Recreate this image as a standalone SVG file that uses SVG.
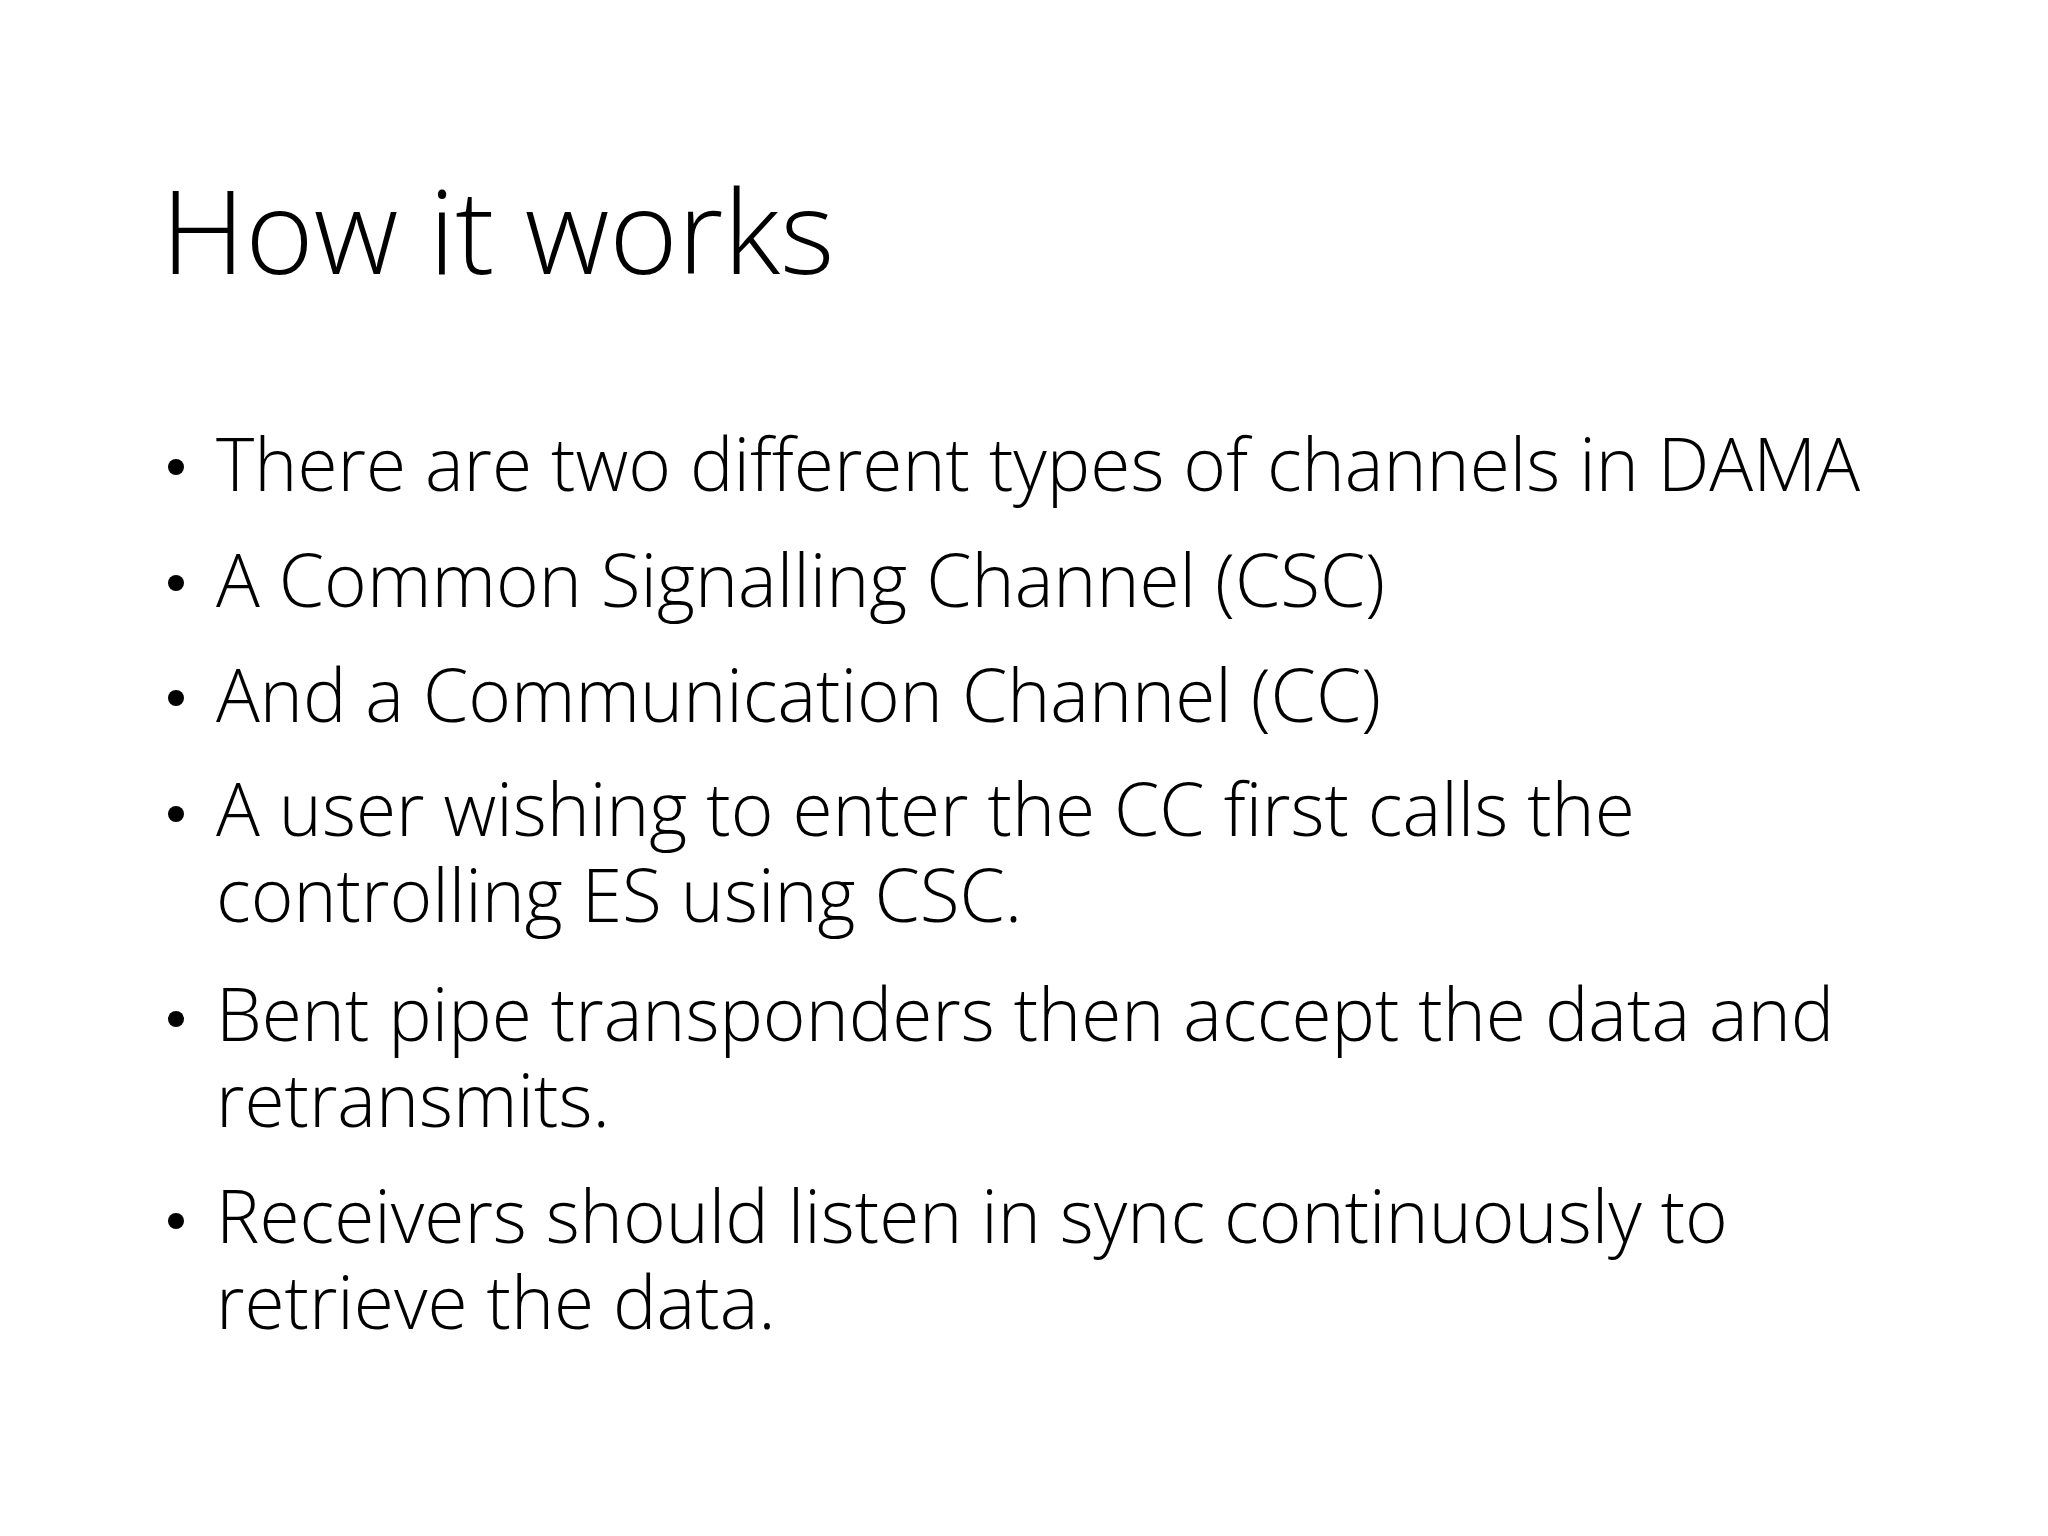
<svg xmlns="http://www.w3.org/2000/svg" width="2048" height="1536" viewBox="0 0 2048 1536">
<style>
text{font-family:"Open Sans","Noto Sans",sans-serif;font-weight:300;fill:#000}
.t{font-size:117px}
.b{font-size:73px}
.d{fill:#000}
</style>
<rect width="2048" height="1536" fill="#fff"/>
<g id="title"><text class="t" x="161" y="274">How it works</text></g>
<g id="bullets">
<circle class="d" cx="176" cy="467" r="8"/><text class="b" x="216" y="491">There are two different types of channels in DAMA</text>
<circle class="d" cx="176" cy="583" r="8"/><text class="b" x="216" y="607">A Common Signalling Channel (CSC)</text>
<circle class="d" cx="176" cy="698" r="8"/><text class="b" x="216" y="722">And a Communication Channel (CC)</text>
<circle class="d" cx="176" cy="814" r="8"/><text class="b" x="216" y="836">A user wishing to enter the CC first calls the</text>
<text class="b" x="216" y="922">controlling ES using CSC.</text>
<circle class="d" cx="176" cy="1019" r="8"/><text class="b" x="216" y="1041">Bent pipe transponders then accept the data and</text>
<text class="b" x="216" y="1127">retransmits.</text>
<circle class="d" cx="176" cy="1221" r="8"/><text class="b" x="216" y="1243">Receivers should listen in sync continuously to</text>
<text class="b" x="216" y="1329">retrieve the data.</text>
</g>
</svg>
